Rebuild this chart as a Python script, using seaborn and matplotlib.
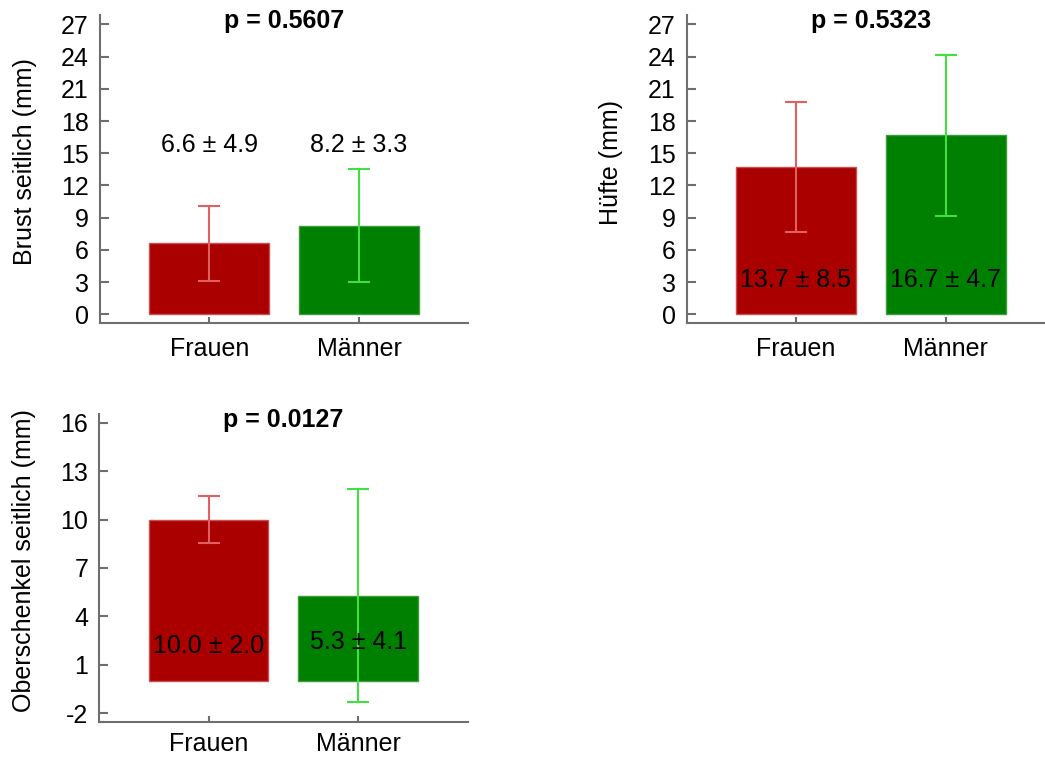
import matplotlib
matplotlib.use("Agg")
import matplotlib.pyplot as plt
import seaborn as sns
import pandas as pd

# ---------------- data ----------------
groups = ["Frauen", "Männer"]

brust_mean = [6.6, 8.24]
brust_err = [3.49, 5.26]
brust_text = ["6.6 \u00b1 4.9", "8.2 \u00b1 3.3"]

huefte_mean = [13.72, 16.65]
huefte_err = [6.07, 7.48]
huefte_text = ["13.7 \u00b1 8.5", "16.7 \u00b1 4.7"]

ober_mean = [10.0, 5.28]
ober_err = [1.43, 6.61]
ober_text = ["10.0 \u00b1 2.0", "5.3 \u00b1 4.1"]

p_values = ["p = 0.5607", "p = 0.5323", "p = 0.0127"]
ylabels = ["Brust seitlich (mm)", "Hüfte (mm)", "Oberschenkel seitlich (mm)"]
yticks_top = [0, 3, 6, 9, 12, 15, 18, 21, 24, 27]
yticks_bottom = [-2, 1, 4, 7, 10, 13, 16]

# ---------------- style ----------------
sns.set_theme(style="white")
plt.rcParams["font.family"] = ["Liberation Sans", "DejaVu Sans"]
plt.rcParams["text.color"] = "black"
plt.rcParams["axes.labelcolor"] = "black"

bar_colors = ["#aa0000", "#008000"]
edge_colors = ["#c85050", "#3c9c3c"]
err_colors = ["#e06060", "#44dd44"]
axis_color = "#6e6e6e"
FS = 18


def panel(ax, means, errs, texts, text_y, ptxt, ylabel, yticks, ylim,
          title_y, label_y, xpad):
    df = pd.DataFrame({"Gruppe": groups, "Wert": means})
    sns.barplot(data=df, x="Gruppe", y="Wert", hue="Gruppe",
                palette=bar_colors, width=0.8, saturation=1,
                legend=False, ax=ax, zorder=2)
    for patch, ec in zip(ax.patches, edge_colors):
        patch.set_edgecolor(ec)
        patch.set_linewidth(1.0)
    for i in range(len(groups)):
        ax.errorbar(i, means[i], yerr=errs[i], color=err_colors[i],
                    capsize=8, elinewidth=1.5, capthick=1.5, zorder=3)
        ax.text(i, text_y[i], texts[i], ha="center", va="baseline",
                fontsize=FS, color="black", zorder=4)
    ax.text(0.5, title_y, ptxt, transform=ax.transAxes, ha="center",
            va="baseline", fontsize=FS, fontweight="bold", color="black")

    for s in ["top", "right"]:
        ax.spines[s].set_visible(False)
    for s in ["left", "bottom"]:
        ax.spines[s].set_color(axis_color)
        ax.spines[s].set_linewidth(1.5)

    ax.set_xlim(-0.73, 1.73)
    ax.set_ylim(*ylim)
    ax.set_yticks(yticks)
    ax.set_yticklabels([str(t) for t in yticks])
    ax.tick_params(axis="y", left=True, direction="in", length=6.5, width=1.5,
                   color=axis_color, pad=8, labelsize=FS, labelcolor="black")
    ax.tick_params(axis="x", bottom=True, direction="in", length=4.3, width=1.5,
                   color=axis_color, pad=xpad, labelsize=FS, labelcolor="black")
    ax.set_xlabel("")
    ax.set_ylabel(ylabel, fontsize=FS, color="black")
    ax.yaxis.set_label_coords(-0.172, label_y)


fig = plt.figure(figsize=(10.45, 7.58), dpi=100)
fig.patch.set_facecolor("white")

W = 0.3525
ax1 = fig.add_axes([0.0957, 0.5743, W, 0.4059])
ax2 = fig.add_axes([0.6571, 0.5743, W, 0.4059])
ax3 = fig.add_axes([0.0950, 0.0471, W, 0.4067])

panel(ax1, brust_mean, brust_err, brust_text, [15.08, 15.08], p_values[0],
      ylabels[0], yticks_top, (-0.78, 27.87), 0.9568, 0.524, 10)
panel(ax2, huefte_mean, huefte_err, huefte_text, [2.57, 2.57], p_values[1],
      ylabels[1], yticks_top, (-0.78, 27.87), 0.9568, 0.519, 10)
panel(ax3, ober_mean, ober_err, ober_text, [1.71, 1.96], p_values[2],
      ylabels[2], yticks_bottom, (-2.56, 16.54), 0.9588, 0.526, 7)

fig.savefig("out.png", dpi=100, facecolor="white")
